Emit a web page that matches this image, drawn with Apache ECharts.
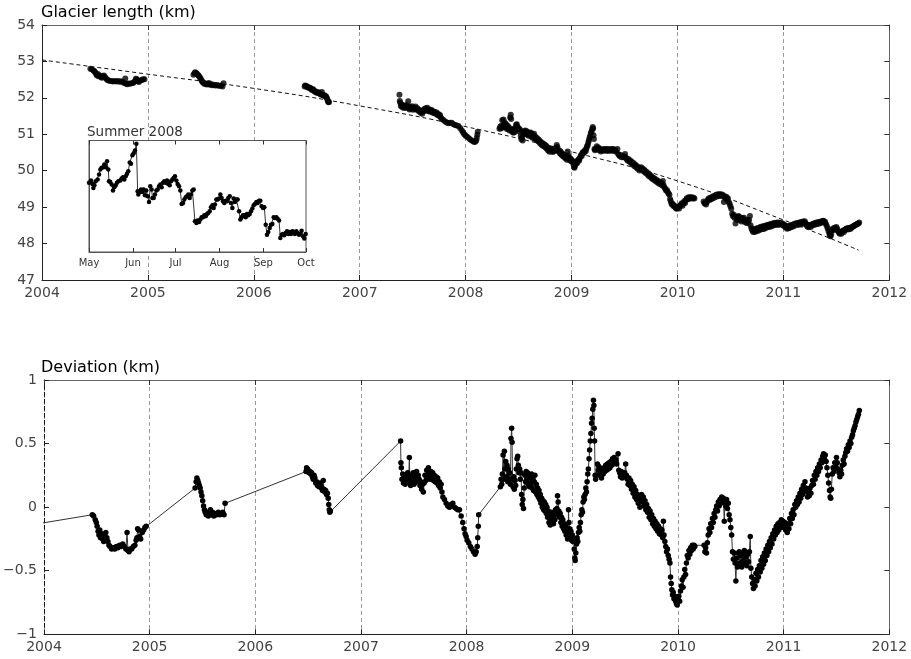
<!DOCTYPE html>
<html>
<head>
<meta charset="utf-8">
<title>Glacier length and deviation from trend</title>
<script src="https://cdn.jsdelivr.net/npm/echarts@6/dist/echarts.min.js"></script>
<style>
  html, body { margin: 0; padding: 0; background: #fff; }
  #chart { width: 911px; height: 659px; }
</style>
</head>
<body>
<div id="chart"></div>
<script>
// ---- Long-term trend of the terminus position (decimal year, km) ----
const trendYears = [2004, 2005, 2006, 2007, 2008, 2009, 2010, 2011, 2011.71];
const trendKm    = [53.04, 52.65, 52.26, 51.78, 51.21, 50.52, 49.72, 48.65, 47.82];

// ---- Deviation from trend per observing season: [decimal year, km] ----
const season2003 = [[2003.80, -0.15]];
const season2004 = [
  [2004.457,-0.06],[2004.470,-0.07],[2004.485,-0.10],[2004.495,-0.12],[2004.503,-0.15],[2004.512,-0.19],
  [2004.520,-0.22],[2004.528,-0.18],[2004.535,-0.24],[2004.545,-0.21],[2004.555,-0.25],[2004.565,-0.27],
  [2004.575,-0.22],[2004.585,-0.20],[2004.595,-0.24],[2004.605,-0.27],[2004.615,-0.30],[2004.625,-0.31],
  [2004.640,-0.33],[2004.655,-0.32],[2004.670,-0.33],[2004.685,-0.31],[2004.700,-0.32],[2004.715,-0.30],
  [2004.730,-0.31],[2004.745,-0.29],[2004.760,-0.31],[2004.775,-0.33],[2004.786,-0.20],[2004.795,-0.34],
  [2004.805,-0.35],[2004.815,-0.33],[2004.830,-0.33],[2004.845,-0.31],[2004.860,-0.30],[2004.872,-0.26],
  [2004.880,-0.24],[2004.886,-0.17],[2004.895,-0.18],[2004.905,-0.23],[2004.915,-0.25],[2004.930,-0.20],
  [2004.943,-0.18],[2004.955,-0.16],[2004.967,-0.15]
];
const season2005 = [
  [2005.430,0.15],[2005.440,0.20],[2005.447,0.23],[2005.455,0.21],[2005.462,0.19],[2005.470,0.17],
  [2005.478,0.15],[2005.486,0.12],[2005.494,0.09],[2005.502,0.05],[2005.510,0.01],[2005.518,-0.02],
  [2005.526,-0.04],[2005.535,-0.06],[2005.545,-0.04],[2005.555,-0.07],[2005.565,-0.05],[2005.575,-0.02],
  [2005.585,-0.06],[2005.595,-0.04],[2005.607,-0.07],[2005.620,-0.05],[2005.635,-0.06],[2005.650,-0.04],
  [2005.665,-0.06],[2005.680,-0.05],[2005.692,-0.04],[2005.704,-0.06],[2005.714,0.03]
];
const season2006 = [
  [2006.480,0.28],[2006.485,0.31],[2006.493,0.30],[2006.501,0.29],[2006.509,0.27],[2006.517,0.28],
  [2006.525,0.26],[2006.532,0.27],[2006.540,0.24],[2006.548,0.22],[2006.556,0.25],[2006.564,0.23],
  [2006.572,0.19],[2006.580,0.20],[2006.588,0.17],[2006.595,0.18],[2006.603,0.16],[2006.611,0.19],
  [2006.619,0.17],[2006.627,0.15],[2006.635,0.13],[2006.643,0.21],[2006.650,0.14],[2006.658,0.12],
  [2006.666,0.13],[2006.674,0.10],[2006.682,0.11],[2006.690,0.07],[2006.695,0.02],[2006.700,-0.02],
  [2006.705,-0.04],[2006.710,-0.03]
];
const season2007 = [
  [2007.375,0.52],[2007.378,0.35],[2007.382,0.31],[2007.388,0.22],[2007.395,0.26],[2007.402,0.19],
  [2007.410,0.24],[2007.418,0.18],[2007.426,0.25],[2007.434,0.21],[2007.442,0.27],[2007.450,0.20],
  [2007.458,0.39],[2007.462,0.23],[2007.470,0.17],[2007.478,0.25],[2007.486,0.20],[2007.494,0.27],
  [2007.502,0.18],[2007.510,0.24],[2007.518,0.21],[2007.526,0.28],[2007.534,0.20],[2007.542,0.25],
  [2007.550,0.22],[2007.558,0.17],[2007.566,0.20],[2007.574,0.14],[2007.582,0.18],[2007.590,0.12],
  [2007.598,0.19],[2007.606,0.25],[2007.614,0.21],[2007.622,0.29],[2007.630,0.24],[2007.638,0.31],
  [2007.646,0.26],[2007.654,0.22],[2007.662,0.28],[2007.670,0.23],[2007.678,0.27],[2007.686,0.21],
  [2007.694,0.25],[2007.702,0.20],[2007.710,0.24],[2007.718,0.19],[2007.726,0.23],[2007.734,0.17],
  [2007.742,0.20],[2007.750,0.15],[2007.758,0.18],[2007.766,0.12],[2007.775,0.08],[2007.790,0.06],
  [2007.806,0.03],[2007.822,0.01],[2007.837,0.00],[2007.853,0.02],[2007.869,0.03],[2007.885,0.00],
  [2007.900,-0.01],[2007.916,-0.02],[2007.932,-0.02],[2007.948,-0.07],[2007.963,-0.12],[2007.975,-0.17],
  [2007.985,-0.21],[2007.995,-0.23],[2008.005,-0.26],[2008.020,-0.28],[2008.035,-0.31],[2008.050,-0.33],
  [2008.065,-0.35],[2008.080,-0.37],[2008.090,-0.35],[2008.100,-0.31],[2008.105,-0.24],[2008.110,-0.15],
  [2008.114,-0.06]
];
const season2008 = [
  [2008.319,0.16],[2008.326,0.22],[2008.332,0.18],[2008.338,0.26],[2008.345,0.41],[2008.351,0.22],
  [2008.357,0.44],[2008.363,0.30],[2008.370,0.36],[2008.376,0.24],[2008.382,0.33],[2008.389,0.20],
  [2008.395,0.30],[2008.401,0.22],[2008.407,0.27],[2008.414,0.18],[2008.420,0.54],[2008.426,0.62],
  [2008.430,0.51],[2008.434,0.22],[2008.439,0.16],[2008.445,0.24],[2008.451,0.14],[2008.458,0.21],
  [2008.464,0.17],[2008.470,0.30],[2008.477,0.38],[2008.483,0.40],[2008.489,0.33],[2008.495,0.27],
  [2008.502,0.30],[2008.508,0.22],[2008.514,0.27],[2008.520,0.10],[2008.526,0.02],[2008.532,0.06],
  [2008.538,-0.01],[2008.545,0.15],[2008.551,0.25],[2008.557,0.20],[2008.563,0.28],[2008.570,0.22],
  [2008.576,0.27],[2008.582,0.18],[2008.588,0.25],[2008.594,0.16],[2008.601,0.24],[2008.607,0.19],
  [2008.614,0.26],[2008.620,0.15],[2008.626,0.22],[2008.633,0.13],[2008.640,0.20],[2008.646,0.25],
  [2008.652,0.12],[2008.659,0.18],[2008.665,0.10],[2008.672,0.15],[2008.678,0.08],[2008.685,0.13],
  [2008.691,0.06],[2008.697,0.10],[2008.703,0.03],[2008.710,0.07],[2008.716,0.00],[2008.722,0.05],
  [2008.729,-0.02],[2008.735,0.04],[2008.741,-0.03],[2008.748,0.02],[2008.754,-0.05],[2008.760,0.00],
  [2008.766,-0.08],[2008.772,-0.03],[2008.779,-0.12],[2008.785,-0.06],[2008.791,-0.14],[2008.797,-0.09],
  [2008.804,-0.04],[2008.810,-0.11],[2008.816,-0.07],[2008.822,-0.13],[2008.829,-0.05],[2008.835,-0.10],
  [2008.841,-0.02],[2008.848,-0.06],[2008.854,-0.01],[2008.860,0.09],[2008.866,0.04],[2008.873,-0.03],
  [2008.879,-0.08],[2008.885,-0.05],[2008.892,-0.12],[2008.898,-0.08],[2008.904,-0.15],[2008.910,-0.10],
  [2008.917,-0.17],[2008.923,-0.13],[2008.929,-0.19],[2008.936,-0.15],[2008.942,-0.22],[2008.948,-0.18],
  [2008.955,-0.25],[2008.961,-0.20],[2008.964,-0.02],[2008.968,-0.12],[2008.974,-0.17],[2008.980,-0.24],
  [2008.987,-0.19],[2008.993,-0.26],[2009.000,-0.22],[2009.006,-0.27],[2009.012,-0.25],[2009.018,-0.33],
  [2009.024,-0.40],[2009.027,-0.42],[2009.033,-0.36],[2009.040,-0.29],[2009.046,-0.24],[2009.052,-0.27],
  [2009.058,-0.20],[2009.065,-0.16],[2009.071,-0.19],[2009.077,-0.12],[2009.084,-0.06],[2009.090,-0.02],
  [2009.096,-0.04],[2009.102,0.04],[2009.109,0.08],[2009.115,0.06],[2009.121,0.10],[2009.128,0.15],
  [2009.134,0.12],[2009.140,0.20],[2009.146,0.26],[2009.152,0.30],[2009.158,0.38],[2009.164,0.45],
  [2009.170,0.52],[2009.176,0.58],[2009.182,0.66],[2009.188,0.70],[2009.194,0.77],[2009.200,0.84],
  [2009.204,0.80],[2009.207,0.62],[2009.211,0.52],[2009.216,0.25],[2009.221,0.22],[2009.227,0.25],
  [2009.238,0.34],[2009.245,0.29],[2009.252,0.32],[2009.260,0.25],[2009.268,0.30],[2009.276,0.23],
  [2009.284,0.28],[2009.292,0.26],[2009.300,0.31],[2009.308,0.28],[2009.316,0.33],[2009.324,0.29],
  [2009.332,0.34],[2009.340,0.30],[2009.348,0.35],[2009.356,0.31],[2009.364,0.36],[2009.372,0.33],
  [2009.380,0.38],[2009.388,0.34],[2009.396,0.39],[2009.404,0.35],[2009.412,0.37],[2009.420,0.34],
  [2009.433,0.42],[2009.440,0.29],[2009.448,0.27],[2009.456,0.24],[2009.464,0.28],[2009.472,0.23],
  [2009.480,0.26],[2009.488,0.24],[2009.496,0.27],[2009.505,0.34],[2009.512,0.25],[2009.520,0.22],
  [2009.528,0.18],[2009.536,0.23],[2009.544,0.17],[2009.552,0.21],[2009.560,0.14],[2009.568,0.18],
  [2009.576,0.11],[2009.584,0.16],[2009.592,0.08],[2009.600,0.13],[2009.608,0.06],[2009.616,0.10],
  [2009.624,0.03],[2009.632,0.08],[2009.640,0.00],[2009.648,0.06],[2009.656,0.10],[2009.664,0.04],
  [2009.672,0.08],[2009.680,0.01],[2009.688,0.05],[2009.696,-0.02],[2009.704,0.02],[2009.712,-0.04],
  [2009.720,-0.01],[2009.728,-0.08],[2009.736,-0.03],[2009.744,-0.10],[2009.752,-0.06],[2009.760,-0.13],
  [2009.768,-0.09],[2009.776,-0.15],[2009.784,-0.11],[2009.792,-0.17],[2009.800,-0.13],[2009.808,-0.19],
  [2009.816,-0.15],[2009.824,-0.21],[2009.832,-0.17],[2009.840,-0.22],[2009.848,-0.18],[2009.856,-0.24],
  [2009.862,-0.11],[2009.868,-0.22],[2009.876,-0.27],[2009.884,-0.31],[2009.892,-0.35],[2009.900,-0.33],
  [2009.908,-0.38],[2009.916,-0.41],[2009.924,-0.44],[2009.930,-0.55],[2009.936,-0.60],[2009.942,-0.65],
  [2009.948,-0.69],[2009.955,-0.67],[2009.962,-0.72],[2009.970,-0.70],[2009.978,-0.74],[2009.986,-0.76],
  [2009.993,-0.77],[2010.000,-0.73],[2010.008,-0.70],[2010.016,-0.74],[2010.024,-0.66],[2010.032,-0.62],
  [2010.040,-0.57],[2010.048,-0.63],[2010.056,-0.55],[2010.064,-0.49],[2010.072,-0.53],[2010.080,-0.44],
  [2010.088,-0.38],[2010.096,-0.40],[2010.104,-0.34],[2010.112,-0.37],[2010.120,-0.32],[2010.128,-0.34],
  [2010.136,-0.30],[2010.144,-0.33],[2010.152,-0.30],[2010.160,-0.31]
];
const season2010 = [
  [2010.247,-0.30],[2010.255,-0.35],[2010.262,-0.32],[2010.270,-0.36],[2010.278,-0.28],[2010.286,-0.22],
  [2010.294,-0.17],[2010.302,-0.20],[2010.310,-0.13],[2010.318,-0.16],[2010.326,-0.09],[2010.334,-0.12],
  [2010.342,-0.05],[2010.350,-0.08],[2010.358,-0.02],[2010.366,0.01],[2010.374,-0.03],[2010.382,0.04],
  [2010.390,0.01],[2010.398,0.06],[2010.406,0.03],[2010.414,0.08],[2010.422,0.04],[2010.430,0.07],
  [2010.438,-0.11],[2010.445,0.05],[2010.452,0.01],[2010.460,0.06],[2010.468,-0.01],[2010.476,0.03],
  [2010.484,-0.06],[2010.492,-0.10],[2010.500,-0.16],[2010.508,-0.22],[2010.516,-0.35],[2010.524,-0.41],
  [2010.532,-0.36],[2010.540,-0.44],[2010.548,-0.58],[2010.556,-0.40],[2010.564,-0.47],[2010.572,-0.36],
  [2010.580,-0.35],[2010.588,-0.44],[2010.596,-0.38],[2010.604,-0.47],[2010.612,-0.36],[2010.620,-0.42],
  [2010.628,-0.34],[2010.636,-0.45],[2010.644,-0.39],[2010.652,-0.46],[2010.660,-0.37],[2010.668,-0.43],
  [2010.676,-0.35],[2010.684,-0.23],[2010.690,-0.48],[2010.698,-0.55],[2010.706,-0.60],[2010.714,-0.64],
  [2010.722,-0.57],[2010.730,-0.62],[2010.738,-0.52],[2010.746,-0.58],[2010.754,-0.49],[2010.762,-0.55],
  [2010.770,-0.46],[2010.778,-0.51],[2010.786,-0.42],[2010.794,-0.48],[2010.802,-0.39],[2010.810,-0.45],
  [2010.818,-0.36],[2010.826,-0.42],[2010.834,-0.33],[2010.842,-0.38],[2010.850,-0.30],[2010.858,-0.35],
  [2010.866,-0.27],[2010.874,-0.32],[2010.882,-0.24],[2010.890,-0.29],[2010.898,-0.21],[2010.906,-0.25],
  [2010.914,-0.18],[2010.922,-0.22],[2010.930,-0.15],[2010.938,-0.20],[2010.946,-0.13],[2010.954,-0.18],
  [2010.962,-0.12],[2010.970,-0.16],[2010.978,-0.10],[2010.986,-0.14],[2010.994,-0.11],[2011.002,-0.16],
  [2011.010,-0.12],[2011.018,-0.18],[2011.026,-0.14],[2011.034,-0.20],[2011.042,-0.13],[2011.050,-0.17],
  [2011.058,-0.09],[2011.066,-0.13],[2011.074,-0.05],[2011.082,-0.09],[2011.090,-0.02],[2011.098,-0.06],
  [2011.106,0.02],[2011.114,0.00],[2011.122,0.05],[2011.130,0.02],[2011.138,0.08],[2011.146,0.04],
  [2011.154,0.11],[2011.162,0.07],[2011.170,0.14],[2011.178,0.10],[2011.186,0.17],[2011.194,0.13],
  [2011.202,0.20],[2011.210,0.15],[2011.218,0.12],[2011.226,0.08],[2011.234,0.13],[2011.242,0.09],
  [2011.250,0.15],[2011.258,0.11],[2011.266,0.17],[2011.274,0.21],[2011.282,0.18],[2011.290,0.25],
  [2011.298,0.22],[2011.306,0.28],[2011.314,0.25],[2011.322,0.31],[2011.330,0.28],[2011.338,0.34],
  [2011.346,0.31],[2011.354,0.37],[2011.362,0.35],[2011.370,0.40],[2011.378,0.42],[2011.386,0.38],
  [2011.394,0.41],[2011.402,0.36],[2011.410,0.31],[2011.418,0.25],[2011.426,0.19],[2011.434,0.13],
  [2011.440,0.08],[2011.446,0.07],[2011.452,0.14],[2011.460,0.26],[2011.468,0.31],[2011.476,0.28],
  [2011.484,0.35],[2011.492,0.32],[2011.500,0.39],[2011.508,0.35],[2011.516,0.30],[2011.524,0.27],
  [2011.532,0.24],[2011.540,0.29],[2011.548,0.26],[2011.556,0.33],[2011.564,0.37],[2011.572,0.34],
  [2011.580,0.40],[2011.588,0.43],[2011.596,0.46],[2011.604,0.44],[2011.612,0.49],[2011.620,0.47],
  [2011.628,0.52],[2011.636,0.50],[2011.644,0.55],[2011.652,0.57],[2011.660,0.60],[2011.668,0.62],
  [2011.676,0.64],[2011.684,0.67],[2011.692,0.69],[2011.700,0.71],[2011.708,0.73],[2011.716,0.76]
];

// ---- Summer 2008 close-up: days since 1 May 2008 and length (km) ----
const insetDay = [
  0,1.4,2.4,3.1,3.8,4.7,6.1,7.1,8.0,8.9,10.1,10.8,11.8,12.7,13.6,14.1,15.0,16.0,16.9,17.9,
  18.8,19.7,20.7,22.1,23.0,24.0,24.9,25.9,26.8,27.7,28.7,29.6,30.6,31.5,32.4,33.4,34.3,34.8,35.7,36.7,
  37.6,38.5,39.5,40.4,41.4,42.3,43.2,44.2,44.7,45.6,46.5,47.5,48.4,49.4,50.3,51.2,52.2,53.1,54.1,55.0,
  55.9,56.9,57.8,58.8,59.7,60.6,61.6,62.5,63.5,64.4,65.3,66.3,67.2,68.2,69.1,70.0,71.0,71.9,72.9,73.8,
  74.7,75.7,76.6,77.6,78.5,79.4,80.4,81.3,82.3,83.2,84.1,85.1,86.0,87.0,87.9,88.8,89.8,90.7,91.7,92.6,
  93.5,94.5,95.4,96.4,97.3,98.2,99.2,100.1,101.1,102.0,102.9,103.9,104.8,105.8,106.7,107.6,108.6,109.5,110.5,111.4,
  112.3,113.3,114.2,115.2,116.1,117.0,118.0,118.9,119.9,120.8,121.7,122.7,123.6,124.6,125.5,126.4,127.4,128.3,129.3,130.2,
  131.1,132.1,133.0,134.0,134.9,135.8,136.8,137.7,138.7,139.6,140.5,141.5,142.4,143.4,144.3,145.2,146.2,147.1,148.1,149.0,
  149.9,150.9,151.8,152.8
];
const insetKm = [
  51.175,51.196,51.165,51.128,51.153,51.190,51.206,51.252,51.299,51.315,51.321,51.346,51.321,51.377,51.299,51.190,51.184,51.159,51.103,51.134,
  51.153,51.175,51.190,51.196,51.215,51.227,51.206,51.237,51.259,51.284,51.364,51.352,51.433,51.452,51.477,51.539,51.097,51.066,51.090,51.112,
  51.090,51.112,51.059,51.103,51.050,50.997,51.143,51.112,51.034,51.034,51.066,51.103,51.112,51.143,51.159,51.134,51.175,51.190,51.175,51.196,
  51.165,51.153,51.190,51.206,51.221,51.237,51.196,51.165,51.143,51.103,50.978,50.988,51.019,51.041,51.050,51.066,51.034,51.066,51.103,51.112,
  50.816,50.801,50.823,50.810,50.832,50.854,50.854,50.872,50.863,50.885,50.894,50.910,50.947,50.966,50.941,50.972,51.019,51.019,51.028,51.066,
  51.034,51.003,50.988,51.009,51.003,51.034,51.050,50.988,50.941,51.028,50.997,51.019,51.019,50.910,50.832,50.854,50.872,50.872,50.854,50.885,
  50.872,50.885,50.910,50.935,50.966,50.978,50.997,50.988,51.009,51.009,50.957,50.941,50.947,50.785,50.692,50.717,50.754,50.785,50.792,50.854,
  50.848,50.854,50.841,50.823,50.661,50.692,50.698,50.686,50.707,50.723,50.698,50.717,50.698,50.723,50.717,50.698,50.723,50.707,50.692,50.698,
  50.729,50.676,50.655,50.698
];
const monthStartDays = [0, 31, 61, 92, 123, 153];
const monthNames = ['May', 'Jun', 'Jul', 'Aug', 'Sep', 'Oct'];

// ---- Axis ticks ----
const yearTicks = [2004, 2005, 2006, 2007, 2008, 2009, 2010, 2011, 2012];
const lengthTicks = [47, 48, 49, 50, 51, 52, 53, 54];
const deviationTicks = [-1, -0.5, 0, 0.5, 1];

// Trend value at a given time (piecewise between the trend knots)
function trendAt(t) {
  if (t <= trendYears[0]) return trendKm[0];
  for (let i = 1; i < trendYears.length; i++) {
    if (t <= trendYears[i]) {
      const f = (t - trendYears[i - 1]) / (trendYears[i] - trendYears[i - 1]);
      return trendKm[i - 1] + f * (trendKm[i] - trendKm[i - 1]);
    }
  }
  return trendKm[trendKm.length - 1];
}

const seasons = [season2004, season2005, season2006, season2007, season2008, season2010];
const deviationData = season2003.concat(...seasons);
// Glacier length = long-term trend + deviation
const lengthData = [].concat(...seasons).map(p => [p[0], +(trendAt(p[0]) + p[1]).toFixed(3)]);
const trendData = trendYears.map((y, i) => [y, trendKm[i]]);
const insetData = insetDay.map((d, i) => [d, insetKm[i]]);

const FONT = 'DejaVu Sans';
const LABEL = { color: '#444', fontFamily: FONT, fontSize: 14 };

function fmtDev(v) {
  if (v === 0) return '0';
  return (v < 0 ? '\u2212' : '') + String(Math.abs(v));
}

function bottomYearAxis(gridIndex) {
  return {
    type: 'value', gridIndex, position: 'bottom',
    min: yearTicks[0], max: yearTicks[yearTicks.length - 1], interval: 1,
    axisLine: { onZero: false, lineStyle: { color: '#222', width: 1 } },
    axisTick: { inside: true, length: 5, lineStyle: { color: '#222' } },
    axisLabel: Object.assign({ margin: 6, showMinLabel: true, showMaxLabel: true,
                               formatter: v => String(v) }, LABEL),
    splitLine: { show: true, lineStyle: { color: '#9a9a9a', type: [4, 3], width: 1 } }
  };
}
function topYearAxis(gridIndex) {
  return {
    type: 'value', gridIndex, position: 'top',
    min: yearTicks[0], max: yearTicks[yearTicks.length - 1], interval: 1,
    axisLine: { onZero: false, lineStyle: { color: '#666', width: 1 } },
    axisTick: { inside: true, length: 5, lineStyle: { color: '#333' } },
    axisLabel: { show: false }, splitLine: { show: false }
  };
}

const option = {
  animation: false,
  backgroundColor: '#fff',
  title: [
    { text: 'Glacier length (km)', left: 41, top: 5, padding: 0,
      textStyle: { fontFamily: FONT, fontSize: 16, fontWeight: 'normal', color: '#000' } },
    { text: 'Deviation (km)', left: 41, top: 360, padding: 0,
      textStyle: { fontFamily: FONT, fontSize: 16, fontWeight: 'normal', color: '#000' } },
    { text: 'Summer 2008', left: 87, top: 125, padding: 0, z: 7,
      textStyle: { fontFamily: FONT, fontSize: 13.5, fontWeight: 'normal', color: '#333' } }
  ],
  grid: [
    { left: 42, right: 21.7, top: 25, height: 255 },
    { left: 42, right: 21.7, top: 380, height: 254.3 },
    { left: 89, top: 140.5, width: 217, height: 111.5, show: true, z: 5,
      backgroundColor: '#fff', borderColor: '#555', borderWidth: 1 }
  ],
  xAxis: [
    bottomYearAxis(0),
    topYearAxis(0),
    bottomYearAxis(1),
    topYearAxis(1),
    {
      type: 'value', gridIndex: 2, position: 'bottom', z: 6,
      min: monthStartDays[0], max: monthStartDays[monthStartDays.length - 1],
      axisLine: { onZero: false, lineStyle: { color: '#555' } },
      axisTick: { inside: true, length: 4, customValues: monthStartDays, lineStyle: { color: '#333' } },
      axisLabel: {
        customValues: monthStartDays, margin: 6, color: '#333', fontFamily: FONT, fontSize: 10,
        formatter: v => monthNames[monthStartDays.indexOf(v)] || ''
      },
      splitLine: { show: false }
    },
    {
      type: 'value', gridIndex: 2, position: 'top', z: 6,
      min: monthStartDays[0], max: monthStartDays[monthStartDays.length - 1],
      axisLine: { onZero: false, lineStyle: { color: '#555' } },
      axisTick: { inside: true, length: 4, customValues: monthStartDays, lineStyle: { color: '#333' } },
      axisLabel: { show: false }, splitLine: { show: false }
    }
  ],
  yAxis: [
    {
      type: 'value', gridIndex: 0, position: 'left',
      min: lengthTicks[0], max: lengthTicks[lengthTicks.length - 1], interval: 1,
      axisLine: { show: true, onZero: false, lineStyle: { color: '#222' } },
      axisTick: { show: true, inside: true, length: 5, lineStyle: { color: '#222' } },
      axisLabel: Object.assign({ margin: 7, showMinLabel: true, showMaxLabel: true }, LABEL),
      splitLine: { show: false }
    },
    {
      type: 'value', gridIndex: 0, position: 'right',
      min: lengthTicks[0], max: lengthTicks[lengthTicks.length - 1], interval: 1,
      axisLine: { show: true, onZero: false, lineStyle: { color: '#666' } },
      axisTick: { show: true, inside: true, length: 5, lineStyle: { color: '#333' } },
      axisLabel: { show: false }, splitLine: { show: false }
    },
    {
      type: 'value', gridIndex: 1, position: 'left',
      min: deviationTicks[0], max: deviationTicks[deviationTicks.length - 1], interval: 0.5,
      axisLine: { show: true, onZero: false, lineStyle: { color: '#111', type: [4, 3] } },
      axisTick: { show: true, inside: true, length: 5, lineStyle: { color: '#222' } },
      axisLabel: Object.assign({ margin: 7, showMinLabel: true, showMaxLabel: true, formatter: fmtDev }, LABEL),
      splitLine: { show: false }
    },
    {
      type: 'value', gridIndex: 1, position: 'right',
      min: deviationTicks[0], max: deviationTicks[deviationTicks.length - 1], interval: 0.5,
      axisLine: { show: true, onZero: false, lineStyle: { color: '#666' } },
      axisTick: { show: true, inside: true, length: 5, lineStyle: { color: '#333' } },
      axisLabel: { show: false }, splitLine: { show: false }
    },
    {
      type: 'value', gridIndex: 2, position: 'left', z: 6,
      min: 50.53, max: 51.57,
      axisLine: { show: true, onZero: false, lineStyle: { color: '#555' } },
      axisTick: { show: false }, axisLabel: { show: false }, splitLine: { show: false }
    }
  ],
  series: [
    {
      name: 'trend', type: 'line', xAxisIndex: 0, yAxisIndex: 0, data: trendData,
      smooth: true, showSymbol: false, z: 3, silent: true,
      lineStyle: { color: '#111', width: 1, type: [4, 3] }
    },
    {
      name: 'length', type: 'scatter', xAxisIndex: 0, yAxisIndex: 0, data: lengthData,
      symbol: 'circle', symbolSize: 6, z: 2, itemStyle: { color: '#000' }
    },
    {
      name: 'deviation', type: 'line', xAxisIndex: 2, yAxisIndex: 2, data: deviationData,
      symbol: 'circle', symbolSize: 5.5, showSymbol: true, clip: true,
      lineStyle: { color: '#333', width: 1 }, itemStyle: { color: '#000' }
    },
    {
      name: 'summer2008', type: 'line', xAxisIndex: 4, yAxisIndex: 4, data: insetData,
      symbol: 'circle', symbolSize: 4.5, showSymbol: true, z: 10,
      lineStyle: { color: '#333', width: 1 }, itemStyle: { color: '#000' }
    }
  ]
};

const chart = echarts.init(document.getElementById('chart'), null, { renderer: 'canvas' });
chart.setOption(option);
</script>
</body>
</html>
